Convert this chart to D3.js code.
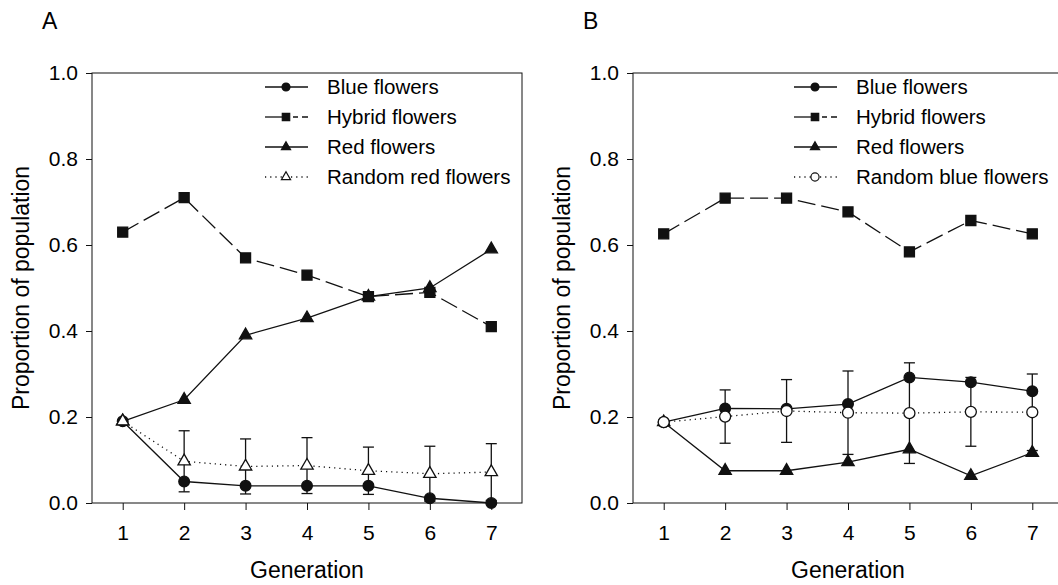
<!DOCTYPE html>
<html>
<head>
<meta charset="utf-8">
<script src="https://cdn.jsdelivr.net/npm/d3@7"></script>
<style>
  body { margin: 0; background: #fff; }
  svg { display: block; font-family: "Liberation Sans", Arial, sans-serif; }
</style>
</head>
<body>
<svg id="chart" width="1058" height="585"></svg>
<script>
// Data
const generations = [1, 2, 3, 4, 5, 6, 7];
const yTicks = [0, 0.2, 0.4, 0.6, 0.8, 1.0];

// Panel A
const blueA = [0.19, 0.05, 0.04, 0.04, 0.04, 0.011, 0.0];
const hybridA = [0.63, 0.71, 0.57, 0.53, 0.48, 0.49, 0.41];
const redA = [0.19, 0.24, 0.39, 0.43, 0.48, 0.5, 0.59];
const randomRedA = [0.19, 0.097, 0.085, 0.087, 0.075, 0.068, 0.072];
const randomRedSdA = [0, 0.071, 0.064, 0.065, 0.055, 0.064, 0.066];

// Panel B
const blueB = [0.188, 0.22, 0.219, 0.23, 0.292, 0.281, 0.26];
const hybridB = [0.626, 0.709, 0.709, 0.677, 0.584, 0.657, 0.626];
const redB = [0.188, 0.075, 0.075, 0.095, 0.125, 0.063, 0.117];
const randomBlueB = [0.188, 0.201, 0.214, 0.21, 0.209, 0.212, 0.211];
const randomBlueSdB = [0, 0.062, 0.073, 0.097, 0.117, 0.08, 0.089];

const legendA = ["Blue flowers", "Hybrid flowers", "Red flowers", "Random red flowers"];
const legendB = ["Blue flowers", "Hybrid flowers", "Red flowers", "Random blue flowers"];

const svg = d3.select("#chart");
const ink = "#111";
const plotTop = 73, plotBottom = 503;

const y = d3.scaleLinear().domain([0, 1]).range([plotBottom, plotTop]);

const styles = {
  blue: { symbol: d3.symbolCircle, size: 90, fill: ink, dash: null },
  hybrid: { symbol: d3.symbolSquare, size: 100, fill: ink, dash: "18,6" },
  red: { symbol: d3.symbolTriangle, size: 66, fill: ink, dash: null },
  randomTri: { symbol: d3.symbolTriangle, size: 66, fill: "#fff", dash: "1.2,4" },
  randomCirc: { symbol: d3.symbolCircle, size: 95, fill: "#fff", dash: "1.2,4" },
};

function drawPanel(cfg) {
  const x = d3.scaleLinear().domain([0.5, 7.5]).range([cfg.left, cfg.left + 430]);
  const g = svg.append("g");

  // frame
  g.append("rect")
    .attr("x", cfg.left).attr("y", plotTop)
    .attr("width", 430).attr("height", plotBottom - plotTop)
    .attr("fill", "none").attr("stroke", ink).attr("stroke-width", 1);

  // axes
  const yAxis = g.append("g")
    .attr("transform", `translate(${cfg.left},0)`)
    .call(d3.axisLeft(y).tickValues(yTicks).tickFormat(d3.format(".1f")).tickSize(6).tickPadding(8));
  const xAxis = g.append("g")
    .attr("transform", `translate(0,${plotBottom})`)
    .call(d3.axisBottom(x).tickValues(generations).tickFormat(d3.format("d")).tickSize(7).tickPadding(15));
  [yAxis, xAxis].forEach((a) => {
    a.select(".domain").remove();
    a.selectAll("line").attr("stroke", ink);
    a.selectAll("text").attr("font-size", "21px").attr("fill", "#000")
      .attr("font-family", "Liberation Sans, Arial, sans-serif");
  });

  // titles
  g.append("text")
    .attr("x", cfg.left - 50).attr("y", 29)
    .attr("font-size", "23px").text(cfg.letter);
  g.append("text")
    .attr("transform", `translate(${cfg.left - 63},${(plotTop + plotBottom) / 2}) rotate(-90)`)
    .attr("text-anchor", "middle")
    .attr("font-size", "23px").text("Proportion of population");
  g.append("text")
    .attr("x", cfg.left + 215).attr("y", 578)
    .attr("text-anchor", "middle")
    .attr("font-size", "23px").text("Generation");

  const line = d3.line().x((d, i) => x(generations[i])).y((d) => y(d));

  cfg.series.forEach((s) => {
    g.append("path")
      .datum(s.values)
      .attr("d", line)
      .attr("fill", "none")
      .attr("stroke", ink)
      .attr("stroke-width", 1.3)
      .attr("stroke-dasharray", s.style.dash);
  });

  // error bars on the random series
  const cap = 5.5;
  const eb = g.append("g").attr("stroke", ink).attr("stroke-width", 1.3);
  cfg.random.values.forEach((v, i) => {
    const sd = cfg.randomSd[i];
    if (!sd) return;
    const cx = x(generations[i]);
    eb.append("line").attr("x1", cx).attr("x2", cx).attr("y1", y(v - sd)).attr("y2", y(v + sd));
    eb.append("line").attr("x1", cx - cap).attr("x2", cx + cap).attr("y1", y(v + sd)).attr("y2", y(v + sd));
    eb.append("line").attr("x1", cx - cap).attr("x2", cx + cap).attr("y1", y(v - sd)).attr("y2", y(v - sd));
  });

  cfg.series.forEach((s) => {
    g.append("g")
      .selectAll("path")
      .data(s.values)
      .join("path")
      .attr("transform", (d, i) => `translate(${x(generations[i])},${y(d)})`)
      .attr("d", d3.symbol().type(s.style.symbol).size(s.style.size))
      .attr("fill", s.style.fill)
      .attr("stroke", ink)
      .attr("stroke-width", 1.3);
  });

  // legend
  const lg = g.append("g").attr("transform", `translate(${cfg.legendX},0)`);
  cfg.legend.forEach((name, i) => {
    const s = cfg.legendStyles[i];
    const ly = 87 + i * 30;
    if (s === styles.hybrid) {
      lg.append("line").attr("x1", 0).attr("x2", 22).attr("y1", ly).attr("y2", ly)
        .attr("stroke", ink).attr("stroke-width", 1.3);
      lg.append("line").attr("x1", 22).attr("x2", 43).attr("y1", ly).attr("y2", ly)
        .attr("stroke", ink).attr("stroke-width", 1.3).attr("stroke-dasharray", "0,6,5,4,5");
    } else {
      lg.append("line").attr("x1", 0).attr("x2", 43).attr("y1", ly).attr("y2", ly)
        .attr("stroke", ink).attr("stroke-width", 1.3)
        .attr("stroke-dasharray", s.dash);
    }
    lg.append("path")
      .attr("transform", `translate(21,${ly})`)
      .attr("d", d3.symbol().type(s.symbol).size(s.size * 0.55))
      .attr("fill", s.fill).attr("stroke", ink).attr("stroke-width", 1.2);
    lg.append("text")
      .attr("x", 62).attr("y", ly).attr("dy", "0.35em")
      .attr("font-size", "20.5px").text(name);
  });
}

drawPanel({
  letter: "A",
  left: 92,
  legendX: 265,
  legend: legendA,
  legendStyles: [styles.blue, styles.hybrid, styles.red, styles.randomTri],
  series: [
    { values: hybridA, style: styles.hybrid },
    { values: redA, style: styles.red },
    { values: blueA, style: styles.blue },
    { values: randomRedA, style: styles.randomTri },
  ],
  random: { values: randomRedA },
  randomSd: randomRedSdA,
});

drawPanel({
  letter: "B",
  left: 633,
  legendX: 794,
  legend: legendB,
  legendStyles: [styles.blue, styles.hybrid, styles.red, styles.randomCirc],
  series: [
    { values: hybridB, style: styles.hybrid },
    { values: redB, style: styles.red },
    { values: blueB, style: styles.blue },
    { values: randomBlueB, style: styles.randomCirc },
  ],
  random: { values: randomBlueB },
  randomSd: randomBlueSdB,
});
</script>
</body>
</html>
